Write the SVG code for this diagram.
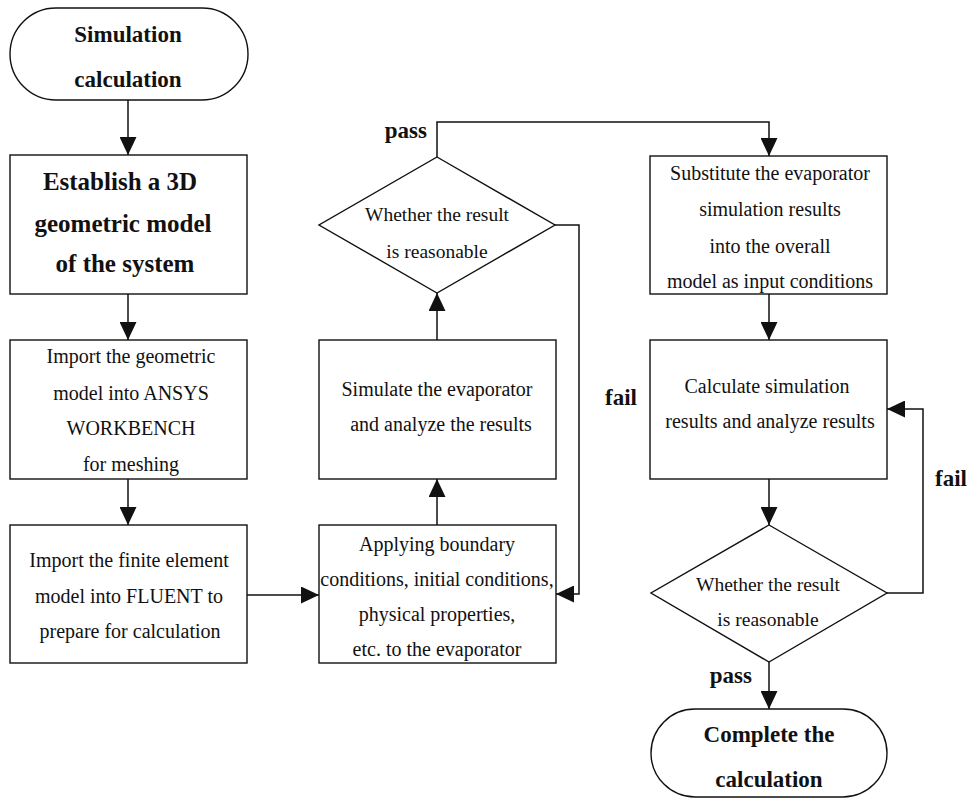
<svg xmlns="http://www.w3.org/2000/svg" width="967" height="798" viewBox="0 0 967 798">
<style>
.shape{fill:#fff;stroke:#111;stroke-width:1.4}
.conn{fill:none;stroke:#111;stroke-width:1.5}
.t{font-family:"Liberation Serif","Times New Roman",serif;font-size:20px;fill:#111;text-anchor:middle}
.b{font-family:"Liberation Serif","Times New Roman",serif;font-weight:bold;font-size:24px;fill:#111;text-anchor:middle}
.lbl{font-family:"Liberation Serif","Times New Roman",serif;font-weight:bold;font-size:23px;fill:#111}
</style>
<defs>
<marker id="arr" markerUnits="userSpaceOnUse" viewBox="0 0 18 17" markerWidth="18" markerHeight="17" refX="18" refY="8.5" orient="auto">
<path d="M0,0 L18,8.5 L0,17 z" fill="#111"/>
</marker>
</defs>
<rect width="967" height="798" fill="#fff"/>
<g id="connectors">
<path class="conn" d="M128,100 V155" marker-end="url(#arr)"/>
<path class="conn" d="M128,294 V340" marker-end="url(#arr)"/>
<path class="conn" d="M128,479 V525" marker-end="url(#arr)"/>
<path class="conn" d="M247,595 H319" marker-end="url(#arr)"/>
<path class="conn" d="M437,525 V479" marker-end="url(#arr)"/>
<path class="conn" d="M437,340 V293" marker-end="url(#arr)"/>
<path class="conn" d="M437,157 V122 H769 V156" marker-end="url(#arr)"/>
<path class="conn" d="M555,225 H579 V594 H556" marker-end="url(#arr)"/>
<path class="conn" d="M769,294 V340" marker-end="url(#arr)"/>
<path class="conn" d="M769,479 V525" marker-end="url(#arr)"/>
<path class="conn" d="M769,662 V709" marker-end="url(#arr)"/>
<path class="conn" d="M887,593 H923 V409 H887" marker-end="url(#arr)"/>
<text class="lbl" x="427" y="138" text-anchor="end">pass</text>
<text class="lbl" x="605" y="405">fail</text>
<text class="lbl" x="935" y="486">fail</text>
<text class="lbl" x="752" y="683" text-anchor="end">pass</text>
</g>
<g id="start">
<rect class="shape" x="10" y="8" width="238" height="92" rx="46" ry="46"/>
<text class="b" x="128" y="42" style="font-size:23px">Simulation</text>
<text class="b" x="128" y="87" style="font-size:23px">calculation</text>
</g>
<g id="establish">
<rect class="shape" x="10" y="155" width="237" height="139"/>
<text class="b" x="120" y="190" style="font-size:25px">Establish a 3D</text>
<text class="b" x="123" y="232" style="font-size:25px">geometric model</text>
<text class="b" x="125" y="272" style="font-size:25px">of the system</text>
</g>
<g id="import-geometry">
<rect class="shape" x="10" y="340" width="237" height="139"/>
<text class="t" x="131" y="363">Import the geometric</text>
<text class="t" x="131" y="400">model into ANSYS</text>
<text class="t" x="131" y="435">WORKBENCH</text>
<text class="t" x="131" y="471">for meshing</text>
</g>
<g id="import-fem">
<rect class="shape" x="10" y="525" width="237" height="138"/>
<text class="t" x="129" y="567">Import the finite element</text>
<text class="t" x="129" y="603">model into FLUENT to</text>
<text class="t" x="130" y="638">prepare for calculation</text>
</g>
<g id="apply-bc">
<rect class="shape" x="319" y="525" width="237" height="138"/>
<text class="t" x="437" y="551">Applying boundary</text>
<text class="t" x="437" y="586">conditions, initial conditions,</text>
<text class="t" x="437" y="621">physical properties,</text>
<text class="t" x="437" y="656">etc. to the evaporator</text>
</g>
<g id="simulate">
<rect class="shape" x="319" y="340" width="237" height="139"/>
<text class="t" x="437" y="396">Simulate the evaporator</text>
<text class="t" x="441" y="431">and analyze the results</text>
</g>
<g id="decision1">
<polygon class="shape" points="437,157 555,225 437,293 319,225"/>
<text class="t" x="437" y="221" style="font-size:19.5px">Whether the result</text>
<text class="t" x="437" y="258" style="font-size:19.5px">is reasonable</text>
</g>
<g id="substitute">
<rect class="shape" x="650" y="156" width="237" height="138"/>
<text class="t" x="770" y="180">Substitute the evaporator</text>
<text class="t" x="770" y="216">simulation results</text>
<text class="t" x="770" y="253">into the overall</text>
<text class="t" x="770" y="288">model as input conditions</text>
</g>
<g id="calculate">
<rect class="shape" x="650" y="340" width="237" height="139"/>
<text class="t" x="767" y="393">Calculate simulation</text>
<text class="t" x="770" y="428">results and analyze results</text>
</g>
<g id="decision2">
<polygon class="shape" points="769,525 887,593 769,662 651,593"/>
<text class="t" x="768" y="591" style="font-size:19.5px">Whether the result</text>
<text class="t" x="768" y="626" style="font-size:19.5px">is reasonable</text>
</g>
<g id="end">
<rect class="shape" x="651" y="709" width="236" height="88" rx="44" ry="44"/>
<text class="b" x="769" y="742" style="font-size:23px">Complete the</text>
<text class="b" x="769" y="787" style="font-size:23px">calculation</text>
</g>
</svg>
